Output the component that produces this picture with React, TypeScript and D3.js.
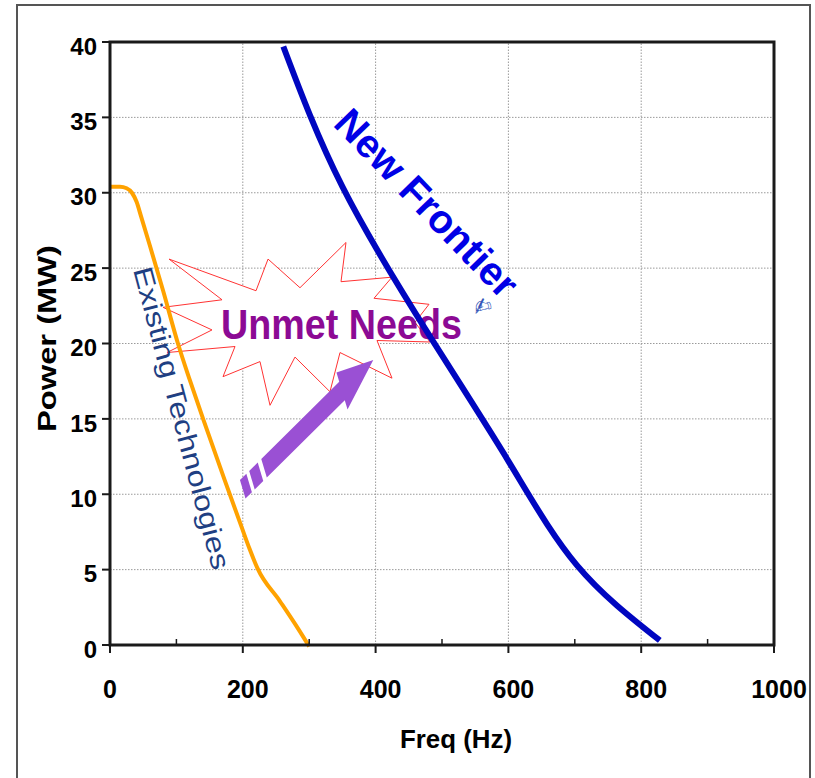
import React from 'react';
import * as d3 from 'd3';

// ---- data ----
const xTickValues = [0, 200, 400, 600, 800, 1000];
const xMinorTicks = [100, 300, 500, 700, 900];
const yTickValues = [0, 5, 10, 15, 20, 25, 30, 35, 40];

const existingFreq = [0, 15, 25, 33, 40, 47, 60, 80, 103, 120, 141, 173, 198, 210, 222, 256, 283, 300];
const existingPower = [30.4, 30.4, 30.3, 30.0, 29.4, 28.4, 26.5, 23.5, 19.9, 17.6, 14.9, 10.9, 7.85, 6.4, 5.1, 2.9, 1.1, -0.1];

const frontierFreq = [261, 350, 480, 600, 703, 828];
const frontierPower = [39.7, 30.4, 20.6, 12.2, 5.3, 0.3];

// "Unmet Needs" burst outline (data units)
const starFreq = [88.9, 219.9, 238.0, 286.1, 355.4, 347.9, 424.7, 397.6, 480.4, 459.3, 481.9, 402.1, 424.7, 346.4, 331.3, 278.6, 241.0, 225.9, 170.2, 188.3, 85.8, 153.6, 79.8, 168.7];
const starPower = [25.6, 23.5, 25.6, 23.7, 26.7, 24.1, 24.4, 23.0, 22.6, 21.4, 20.1, 20.2, 17.7, 19.4, 16.8, 19.1, 15.9, 18.8, 17.8, 19.8, 19.4, 20.9, 22.4, 22.9];

const arrowTail = [198.8, 10.28];
const arrowTip = [396.5, 18.9];

const xLabel = 'Freq (Hz)';
const yLabel = 'Power (MW)';
const existingLabel = 'Existing Technologies';
const frontierLabel = 'New Frontier';
const needsLabel = 'Unmet Needs';

const FONT = "'Liberation Sans', Arial, Helvetica, sans-serif";

export default function App() {
  const W = 815;
  const H = 778;
  const x = d3.scaleLinear().domain([0, 1000]).range([110, 774]);
  const y = d3.scaleLinear().domain([0, 40]).range([645, 42]);

  const lineMono = d3
    .line<[number, number]>()
    .x((d) => x(d[0]))
    .y((d) => y(d[1]))
    .curve(d3.curveMonotoneX);
  const lineSmooth = d3
    .line<[number, number]>()
    .x((d) => x(d[0]))
    .y((d) => y(d[1]))
    .curve(d3.curveNatural);

  const existingPts = existingFreq.map((f, i) => [f, existingPower[i]] as [number, number]);
  const frontierPts = frontierFreq.map((f, i) => [f, frontierPower[i]] as [number, number]);
  const starPts = starFreq.map((f, i) => `${x(f)},${y(starPower[i])}`).join(' ');

  // arrow geometry
  const tail = [x(arrowTail[0]), y(arrowTail[1])];
  const tip = [x(arrowTip[0]), y(arrowTip[1])];
  const adx = tip[0] - tail[0];
  const ady = tip[1] - tail[1];
  const L = Math.hypot(adx, ady);
  const dv = [adx / L, ady / L];
  const nv = [-dv[1], dv[0]];
  const cv = [0.3, 1];
  const cn = cv[0] * nv[0] + cv[1] * nv[1];
  const P = (t: number) => [tail[0] + dv[0] * t, tail[1] + dv[1] * t];
  const corner = (t: number, w: number) => {
    const p = P(t);
    return [p[0] + (cv[0] * w) / cn, p[1] + (cv[1] * w) / cn];
  };
  const poly = (pts: number[][]) => pts.map((p) => `${p[0]},${p[1]}`).join(' ');
  const sw = 8.5;
  const hw = 17;
  const headL = 44;
  const dash1 = poly([corner(1, -sw), corner(10, -sw), corner(10, sw), corner(1, sw)]);
  const dash2 = poly([corner(14, -sw), corner(26, -sw), corner(26, sw), corner(14, sw)]);
  const body = poly([
    corner(31, -sw),
    corner(L - headL, -sw),
    corner(L - headL, -hw),
    tip,
    corner(L - headL, hw),
    corner(L - headL, sw),
    corner(31, sw),
  ]);

  const exStart = [x(34.6), y(24.9)];
  const nfStart = [x(334.3), y(34.5)];
  const needsPos = [x(348.6), y(20.3)];
  const iconPos = [x(564), y(22.0)];

  return (
    <svg
      width={W}
      height={H}
      style={{ position: 'absolute', left: 0, top: 0, background: '#fff' }}
      fontFamily={FONT}
    >
      <rect x={0} y={0} width={W} height={H} fill="#fff" />
      {/* outer frame */}
      <rect x={17} y={5} width={793} height={820} fill="none" stroke="#555" strokeWidth={2} />

      {/* grid */}
      {yTickValues
        .filter((v) => v > 0 && v < 40)
        .map((v) => (
          <line key={'gy' + v} x1={x(0)} x2={x(1000)} y1={y(v)} y2={y(v)} stroke="#9a9a9a" strokeWidth={1} strokeDasharray="1.5,1.5" />
        ))}
      {xTickValues
        .filter((v) => v > 0 && v < 1000)
        .map((v) => (
          <line key={'gx' + v} x1={x(v)} x2={x(v)} y1={y(0)} y2={y(40)} stroke="#9a9a9a" strokeWidth={1} strokeDasharray="1.5,1.5" />
        ))}

      {/* burst */}
      <polygon points={starPts} fill="#fff" stroke="#ff3333" strokeWidth={1} strokeLinejoin="miter" />
      <text
        x={needsPos[0]}
        y={needsPos[1]}
        textAnchor="middle"
        fontSize={42}
        fontWeight="bold"
        fill="#8c0a94"
        textLength={241}
        lengthAdjust="spacingAndGlyphs"
      >
        {needsLabel}
      </text>

      {/* arrow */}
      <g fill="#9a50d4">
        <polygon points={dash1} />
        <polygon points={dash2} />
        <polygon points={body} />
      </g>

      {/* labels */}
      <text
        transform={`translate(${exStart[0]},${exStart[1]}) rotate(75.2)`}
        fontSize={27}
        fill="#1f3f82"
        textLength={312}
        lengthAdjust="spacingAndGlyphs"
      >
        {existingLabel}
      </text>
      <text
        transform={`translate(${nfStart[0]},${nfStart[1]}) rotate(46)`}
        fontSize={40}
        fontWeight="bold"
        fill="#0000e6"
        textLength={244}
        lengthAdjust="spacingAndGlyphs"
      >
        {frontierLabel}
      </text>
      <text
        transform={`translate(${iconPos[0]},${iconPos[1]}) rotate(-15)`}
        fontSize={22}
        fontFamily="'DejaVu Sans', sans-serif"
        fill="#3556b8"
        textAnchor="middle"
      >
        ✍
      </text>

      {/* curves */}
      <path d={lineMono(existingPts) || ''} fill="none" stroke="#ffa200" strokeWidth={4} strokeLinecap="butt" />
      <path d={lineSmooth(frontierPts) || ''} fill="none" stroke="#0006c0" strokeWidth={6} strokeLinecap="butt" />

      {/* axes frame */}
      <rect x={x(0)} y={y(40)} width={x(1000) - x(0)} height={y(0) - y(40)} fill="none" stroke="#1a1a1a" strokeWidth={3} />

      {/* y ticks */}
      {yTickValues.map((v) => (
        <g key={'yt' + v}>
          <line x1={x(0) - 8} x2={x(0)} y1={y(v)} y2={y(v)} stroke="#1a1a1a" strokeWidth={2} />
          <text x={97} y={y(v) + 12.7} textAnchor="end" fontSize={24} fontWeight="bold" fill="#000">
            {v}
          </text>
        </g>
      ))}
      {/* x ticks */}
      {xTickValues.map((v) => (
        <g key={'xt' + v}>
          <line x1={x(v)} x2={x(v)} y1={y(0)} y2={y(0) + 8} stroke="#1a1a1a" strokeWidth={2} />
          <text x={x(v) + (v === 0 ? 0 : 5)} y={698} textAnchor="middle" fontSize={25} fontWeight="bold" fill="#000">
            {v}
          </text>
        </g>
      ))}
      {xMinorTicks.map((v) => (
        <line key={'xm' + v} x1={x(v)} x2={x(v)} y1={y(0)} y2={y(0) - 6} stroke="#1a1a1a" strokeWidth={1.5} />
      ))}

      {/* axis titles */}
      <text x={456} y={748} textAnchor="middle" fontSize={26} fontWeight="bold" textLength={112} lengthAdjust="spacingAndGlyphs">
        {xLabel}
      </text>
      <text
        transform={`translate(56,338.5) rotate(-90)`}
        textAnchor="middle"
        fontSize={26}
        fontWeight="bold"
        textLength={187}
        lengthAdjust="spacingAndGlyphs"
      >
        {yLabel}
      </text>
    </svg>
  );
}
